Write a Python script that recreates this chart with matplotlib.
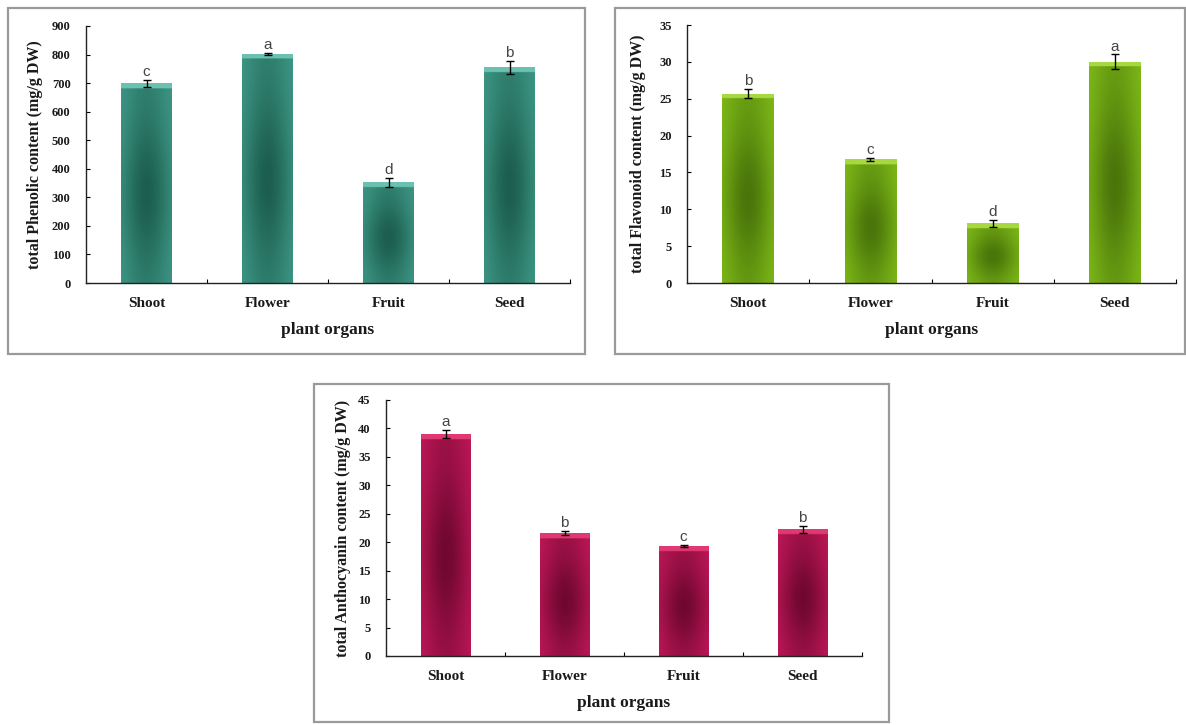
import numpy as np
import matplotlib
matplotlib.use("Agg")
import matplotlib.pyplot as plt
from matplotlib.patches import Rectangle

# ---------------- data ----------------
organs = ["Shoot", "Flower", "Fruit", "Seed"]

phenolic = [700, 802, 352, 755]
phenolic_err = [12, 5, 16, 22]
phenolic_letters = ["c", "a", "d", "b"]

flavonoid = [25.7, 16.8, 8.1, 30.0]
flavonoid_err = [0.6, 0.2, 0.5, 1.0]
flavonoid_letters = ["b", "c", "d", "a"]

anthocyanin = [39.0, 21.6, 19.3, 22.3]
anthocyanin_err = [0.7, 0.4, 0.2, 0.6]
anthocyanin_letters = ["a", "b", "c", "b"]

W, H = 1186, 725
fig = plt.figure(figsize=(W / 100, H / 100), dpi=100)
fig.patch.set_facecolor("white")

SERIF = "Liberation Serif"


def px_axes(l, r, b, t):
    return [l / W, (H - b) / H, (r - l) / W, (b - t) / H]


def frame(l, t, r, b):
    fig.patches.append(Rectangle((l / W, (H - b) / H), (r - l) / W, (b - t) / H,
                                 transform=fig.transFigure, fill=False,
                                 edgecolor="#9a9a9a", linewidth=1.6, zorder=0))


def shade_bar(ax, patch, light, dark, hilite):
    x0, y0 = patch.get_x(), patch.get_y()
    w, h = patch.get_width(), patch.get_height()
    ny, nx = 300, 80
    xs = np.linspace(-1, 1, nx)
    ys = np.linspace(0, 1, ny)
    X, Y = np.meshgrid(xs, ys)
    d = np.exp(-(X / 0.95) ** 2) * (0.45 + 0.55 * np.exp(-((Y - 0.45) / 0.33) ** 2))
    light = np.array(light)
    dark = np.array(dark)
    img = light[None, None, :] * (1 - d[..., None]) + dark[None, None, :] * d[..., None]
    # top highlight band (~5 px)
    p0 = ax.transData.transform((x0, y0))
    p1 = ax.transData.transform((x0, y0 + h))
    hp = max(abs(p1[1] - p0[1]), 1)
    band = Y > 1 - 5.0 / hp
    img[band] = np.array(hilite)
    im = ax.imshow(img, extent=(x0, x0 + w, y0, y0 + h), origin="lower",
                   aspect="auto", interpolation="bilinear", zorder=2)
    im.set_clip_path(patch)


def panel(rect, values, errs, letters, ymax, ystep, ylabel, light, dark, hilite,
          ylabel_x):
    ax = fig.add_axes(rect)
    x = np.arange(len(organs))
    bars = ax.bar(x, values, width=0.42, color=dark, zorder=1, linewidth=0)
    ax.set_xlim(-0.5, len(organs) - 0.5)
    ax.set_ylim(0, ymax)
    for b in bars:
        shade_bar(ax, b, light, dark, hilite)
    ax.set_xlim(-0.5, len(organs) - 0.5)
    ax.set_ylim(0, ymax)
    ax.errorbar(x, values, yerr=errs, fmt="none", ecolor="black", elinewidth=1.0,
                capsize=3, capthick=1.0, zorder=4)
    for xi, v, e, L in zip(x, values, errs, letters):
        ax.annotate(L, (xi, v + e), xytext=(0, 0.5), textcoords="offset points",
                    ha="center", va="bottom", fontsize=11, color="#444444",
                    family="Liberation Sans", zorder=5)
    for s in ["top", "right"]:
        ax.spines[s].set_visible(False)
    for s in ["left", "bottom"]:
        ax.spines[s].set_color("#222222")
        ax.spines[s].set_linewidth(1.0)
    ax.set_yticks(np.arange(0, ymax + ystep / 2, ystep))
    ax.tick_params(axis="y", direction="in", length=3, width=0.8, pad=11,
                   labelsize=9)
    ax.set_xticks(x)
    ax.set_xticklabels(organs)
    ax.set_xticks(np.arange(-0.5, len(organs), 1.0)[1:], minor=True)
    ax.tick_params(axis="x", which="major", length=0, pad=10, labelsize=11)
    ax.tick_params(axis="x", which="minor", direction="in", length=3, width=0.8)
    for lab in ax.get_xticklabels() + ax.get_yticklabels():
        lab.set_family(SERIF)
        lab.set_fontweight("bold")
        lab.set_color("#1a1a1a")
    ax.set_xlabel("plant organs", family=SERIF, fontweight="bold", fontsize=12.5,
                  color="#1a1a1a", labelpad=9)
    ax.set_ylabel(ylabel, family=SERIF, fontweight="bold", fontsize=11.5,
                  color="#1a1a1a")
    ax.yaxis.label.set_va("center")
    ax.yaxis.set_label_coords(ylabel_x, 0.5)
    ax.patch.set_alpha(0)
    return ax


frame(8, 8, 585, 354)
frame(615, 8, 1185, 354)
frame(314, 384, 889, 722)

panel(px_axes(86, 570, 283, 26), phenolic, phenolic_err, phenolic_letters, 900, 100,
      "total Phenolic content (mg/g DW)",
      (0.26, 0.62, 0.55), (0.11, 0.37, 0.31), (0.42, 0.76, 0.69), -0.105)

panel(px_axes(687, 1176, 283, 25), flavonoid, flavonoid_err, flavonoid_letters, 35, 5,
      "total Flavonoid content (mg/g DW)",
      (0.52, 0.76, 0.10), (0.29, 0.46, 0.04), (0.66, 0.85, 0.25), -0.10)

panel(px_axes(386, 862, 656, 400), anthocyanin, anthocyanin_err, anthocyanin_letters,
      45, 5, "total Anthocyanin content (mg/g DW)",
      (0.78, 0.10, 0.36), (0.44, 0.03, 0.19), (0.88, 0.22, 0.45), -0.09)

fig.savefig("out.png", dpi=100, facecolor="white")
